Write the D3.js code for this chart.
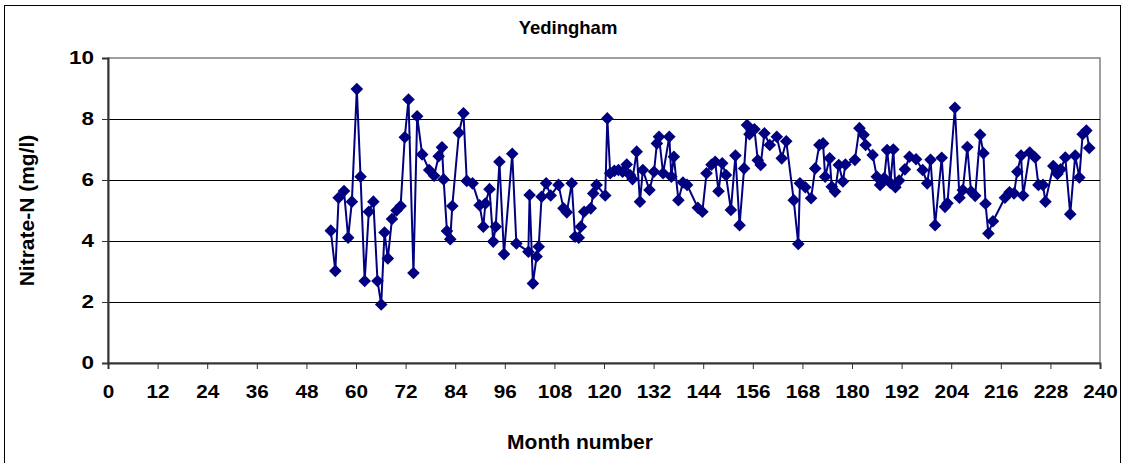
<!DOCTYPE html>
<html>
<head>
<meta charset="utf-8">
<script src="https://cdn.jsdelivr.net/npm/d3@7"></script>
<style>
  html, body { margin: 0; padding: 0; background: #fff; }
  svg { display: block; }
  text { font-family: Arial, "Liberation Sans", sans-serif; font-weight: bold; fill: #000; }
</style>
</head>
<body>
<svg id="chart" width="1132" height="463"></svg>
<script>
// Sampling month for each nitrate reading
const months = [
  53.9, 55.0, 55.8, 57.1, 58.1, 59.0, 60.2, 61.1, 62.1, 63.1,
  64.2, 65.2, 66.1, 66.9, 67.7, 68.7, 69.8, 70.8, 71.8, 72.7,
  73.9, 74.8, 76.0, 77.7, 78.9, 80.0, 80.8, 81.2, 82.0, 82.8,
  83.3, 84.9, 86.0, 86.8, 88.2, 89.9, 90.8, 91.3, 92.3, 93.2,
  93.8, 94.7, 95.8, 97.8, 98.8, 101.7, 102.0, 102.8, 103.7, 104.2,
  104.9, 106.0, 107.1, 109.0, 110.2, 111.0, 112.2, 113.0, 113.9, 114.4,
  115.2, 116.8, 117.4, 118.2, 120.3, 120.8, 121.5, 122.5, 123.5, 124.5,
  125.5, 126.3, 126.9, 127.9, 128.7, 129.4, 131.0, 132.1, 132.8, 133.3,
  134.3, 135.8, 136.3, 136.9, 138.0, 139.1, 140.1, 142.7, 143.8, 144.8,
  146.0, 146.9, 147.7, 148.6, 149.5, 150.7, 151.8, 152.8, 153.9, 154.6,
  155.2, 156.4, 157.2, 157.9, 158.8, 160.1, 161.8, 163.0, 164.1, 165.9,
  167.0, 167.4, 168.7, 170.1, 171.1, 172.1, 173.0, 173.5, 174.6, 175.1,
  175.9, 176.8, 177.8, 178.4, 180.7, 181.8, 182.8, 183.3, 185.0, 186.0,
  186.8, 187.8, 188.5, 189.3, 190.0, 190.5, 191.4, 192.8, 193.9, 195.5,
  197.1, 198.2, 199.0, 200.1, 201.7, 202.5, 203.1, 204.9, 206.0, 206.8,
  207.9, 208.8, 209.8, 211.0, 211.8, 212.3, 213.0, 214.1, 217.0, 218.1,
  219.2, 220.0, 220.9, 221.4, 223.0, 224.3, 225.1, 226.2, 226.8, 228.7,
  229.7, 230.5, 231.6, 232.8, 234.0, 235.0, 235.8, 236.7, 237.4
];

// Nitrate-N concentration (mg/l)
const nitrate = [
  4.34, 3.02, 5.42, 5.64, 4.11, 5.29, 8.98, 6.11, 2.69, 4.96,
  5.29, 2.69, 1.92, 4.28, 3.43, 4.72, 5.00, 5.15, 7.40, 8.64,
  2.95, 8.09, 6.84, 6.33, 6.14, 6.78, 7.07, 6.02, 4.33, 4.06,
  5.15, 7.55, 8.19, 5.97, 5.89, 5.17, 4.47, 5.23, 5.70, 3.98,
  4.47, 6.60, 3.57, 6.86, 3.92, 3.65, 5.51, 2.61, 3.49, 3.81,
  5.45, 5.89, 5.49, 5.84, 5.07, 4.94, 5.89, 4.14, 4.11, 4.47,
  4.96, 5.07, 5.56, 5.84, 5.49, 8.02, 6.22, 6.30, 6.33, 6.27,
  6.51, 6.16, 6.03, 6.93, 5.29, 6.33, 5.67, 6.27, 7.20, 7.42,
  6.22, 7.42, 6.11, 6.76, 5.34, 5.92, 5.84, 5.09, 4.96, 6.22,
  6.50, 6.60, 5.63, 6.55, 6.16, 5.02, 6.80, 4.52, 6.38, 7.80,
  7.50, 7.66, 6.65, 6.49, 7.53, 7.15, 7.42, 6.71, 7.27, 5.34,
  3.90, 5.89, 5.76, 5.40, 6.38, 7.15, 7.20, 6.11, 6.71, 5.78,
  5.62, 6.49, 5.95, 6.51, 6.66, 7.70, 7.48, 7.15, 6.82, 6.11,
  5.84, 6.06, 6.98, 5.90, 7.00, 5.76, 5.98, 6.35, 6.76, 6.68,
  6.33, 5.89, 6.66, 4.52, 6.73, 5.12, 5.24, 8.37, 5.42, 5.67,
  7.08, 5.62, 5.48, 7.48, 6.88, 5.22, 4.25, 4.65, 5.42, 5.60,
  5.56, 6.27, 6.80, 5.49, 6.90, 6.74, 5.84, 5.84, 5.29, 6.46,
  6.20, 6.35, 6.74, 4.88, 6.80, 6.08, 7.50, 7.62, 7.05
];

const xTicks = d3.range(0, 241, 12);
const yTicks = [0, 2, 4, 6, 8, 10];

const titleText = "Yedingham";
const xTitle = "Month number";
const yTitle = "Nitrate-N (mg/l)";

const svg = d3.select("#chart");
const plot = { left: 108, right: 1100, top: 58, bottom: 363 };

const x = d3.scaleLinear().domain([0, 240]).range([plot.left, plot.right]);
const y = d3.scaleLinear().domain([0, 10]).range([plot.bottom, plot.top]);

// widen glyphs horizontally (the chart's lettering is drawn slightly extended)
function widen(sel, k) {
  sel.each(function () {
    const w = this.getComputedTextLength();
    d3.select(this).attr("textLength", w * k).attr("lengthAdjust", "spacingAndGlyphs");
  });
}

// outer chart frame
svg.append("rect")
  .attr("x", 4.5).attr("y", 5.5)
  .attr("width", 1116).attr("height", 470)
  .attr("fill", "#fff").attr("stroke", "#000").attr("stroke-width", 1);

// plot area border (grey)
svg.append("rect")
  .attr("x", plot.left).attr("y", plot.top)
  .attr("width", plot.right - plot.left).attr("height", plot.bottom - plot.top)
  .attr("fill", "#fff").attr("stroke", "#808080").attr("stroke-width", 1.5);

// horizontal gridlines
svg.append("g")
  .selectAll("line")
  .data(yTicks.filter(d => d > 0 && d < 10))
  .join("line")
  .attr("x1", plot.left).attr("x2", plot.right)
  .attr("y1", d => Math.round(y(d)) + 0.5).attr("y2", d => Math.round(y(d)) + 0.5)
  .attr("stroke", "#000").attr("stroke-width", 1);

// axes
const yAxis = svg.append("g")
  .attr("transform", `translate(${plot.left},0)`)
  .call(d3.axisLeft(y).tickValues(yTicks).tickSize(6).tickPadding(8).tickFormat(d3.format("d")));
const xAxis = svg.append("g")
  .attr("transform", `translate(0,${plot.bottom})`)
  .call(d3.axisBottom(x).tickValues(xTicks).tickSize(6).tickPadding(16).tickFormat(d3.format("d")));

[yAxis, xAxis].forEach(g => {
  g.select(".domain").attr("stroke", "#333").attr("stroke-width", 2);
  g.selectAll(".tick line").attr("stroke", "#333").attr("stroke-width", 1);
  g.selectAll(".tick text")
    .attr("font-size", 18).attr("font-weight", "bold")
    .attr("font-family", "Arial, 'Liberation Sans', sans-serif").attr("fill", "#000");
});
widen(yAxis.selectAll(".tick text"), 1.25);
widen(xAxis.selectAll(".tick text"), 1.15);

// series line and diamond markers
const pts = months.map((m, i) => [m, nitrate[i]]);
const line = d3.line().x(d => x(d[0])).y(d => y(d[1]));

svg.append("path")
  .datum(pts)
  .attr("d", line)
  .attr("fill", "none")
  .attr("stroke", "#000080")
  .attr("stroke-width", 2)
  .attr("stroke-linejoin", "round");

const r = 6.3;
svg.append("g")
  .selectAll("path")
  .data(pts)
  .join("path")
  .attr("transform", d => `translate(${x(d[0])},${y(d[1])})`)
  .attr("d", `M0,${-r}L${r},0L0,${r}L${-r},0Z`)
  .attr("fill", "#000080");

// titles
svg.append("text")
  .attr("x", 568).attr("y", 34)
  .attr("text-anchor", "middle")
  .attr("font-size", 18.5)
  .text(titleText);

svg.append("text")
  .attr("x", 580).attr("y", 449)
  .attr("text-anchor", "middle")
  .attr("font-size", 21)
  .text(xTitle);

svg.append("text")
  .attr("transform", `translate(34,${(plot.top + plot.bottom) / 2}) rotate(-90)`)
  .attr("text-anchor", "middle")
  .attr("font-size", 21)
  .text(yTitle);
</script>
</body>
</html>
